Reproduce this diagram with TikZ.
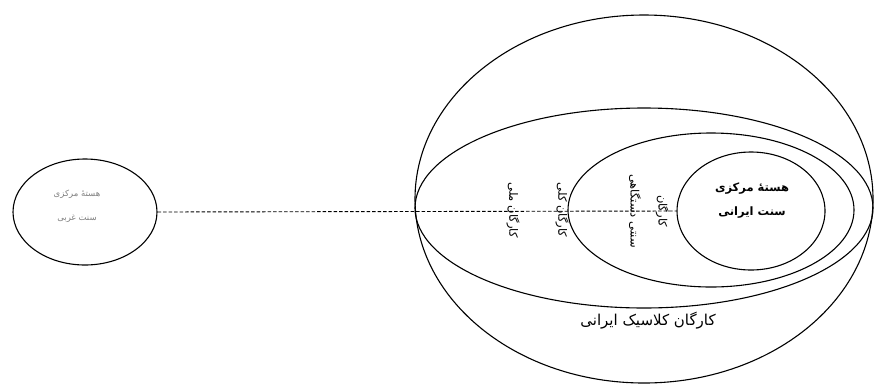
\documentclass[tikz,border=0pt]{standalone}
\usepackage{fontspec}
\newfontfamily\arabicfont[Script=Arabic]{DejaVu Sans}
\TeXXeTstate=1
\usetikzlibrary{shapes.geometric}
\begin{document}
\begin{tikzpicture}[x=1pt,y=-1pt,
  ring/.style={draw=black,line width=1.1pt,ellipse,inner sep=0pt},
  lbl/.style={font=\arabicfont,inner sep=0pt},
  vlbl/.style={lbl,rotate=-90,align=center}]
\useasboundingbox[fill=white] (0,0) rectangle (874,386);
% ellipses
\node[ring,minimum width=458pt,minimum height=368pt] (outer) at (644,199) {};
\node[ring,minimum width=458pt,minimum height=200pt] (melli) at (644,208) {};
\node[ring,minimum width=286pt,minimum height=154pt] (dast) at (711,210) {};
\node[ring,minimum width=148pt,minimum height=118pt] (core) at (751,211) {};
\node[ring,minimum width=144pt,minimum height=106pt] (west) at (85,212) {};
% dashed connector
\draw[line width=0.9pt,dash pattern=on 3.5pt off 2pt] (west.east) -- (core.west);
% texts
\node[lbl,text=black!50,align=center,font=\arabicfont\fontsize{8.5}{24}\selectfont] (westtxt) at (77,206)
  {\beginR هستهٔ مرکزی\endR\\ \beginR سنت غربی\endR};
\node[lbl,align=center,font=\arabicfont\bfseries\fontsize{11.5}{24}\selectfont] (coretxt) at (752,201)
  {\beginR هستهٔ مرکزی\endR\\ \beginR سنت ایرانی\endR};
\node[vlbl,font=\arabicfont\fontsize{11.5}{14}\selectfont] (t1) at (513,210) {\beginR کارگان ملی\endR};
\node[vlbl,font=\arabicfont\fontsize{11.5}{14}\selectfont] (t2) at (562,210) {\beginR کارگان کلی\endR};
\node[vlbl,font=\arabicfont\fontsize{11.5}{28}\selectfont] (t3) at (649,211) {\beginR کارگان\endR\\ \beginR سنتی دستگاهی\endR};
\node[lbl,font=\arabicfont\fontsize{15}{18}\selectfont] (bottom) at (648,321) {\beginR کارگان کلاسیک ایرانی\endR};
\end{tikzpicture}
\end{document}
